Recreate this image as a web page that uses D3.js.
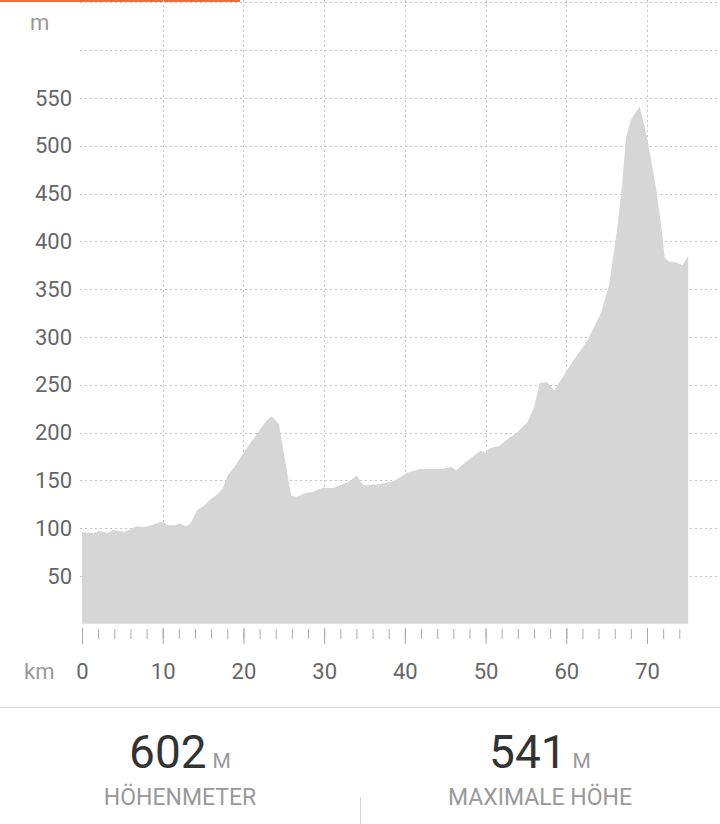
<!DOCTYPE html>
<html>
<head>
<meta charset="utf-8">
<script src="https://cdn.jsdelivr.net/npm/d3@7"></script>
<style>
  html, body { margin: 0; padding: 0; background: #fff; }
  svg { display: block; font-family: Roboto, "Noto Sans", sans-serif; }
</style>
</head>
<body>
<svg id="chart" width="720" height="824"></svg>
<script>
// Distance along route (km)
const distanceKm = [0, 1.4, 2.2, 3.1, 3.9, 5.3, 6.8, 7.6, 8.6, 9.9,
  10.7, 11.5, 12.1, 12.9, 13.4, 14.3, 15.2, 15.9, 16.7, 17.4,
  18.1, 18.8, 20, 21.2, 22.3, 22.9, 23.5, 24.4, 25.9, 26.6,
  27.8, 28.7, 29.7, 31.1, 32, 33.2, 34.0, 34.9, 36.9, 38.6,
  40.3, 41.9, 43.2, 44.6, 45.7, 46.4, 47.5, 48.6, 49.4, 50,
  50.6, 51.7, 52.7, 53.9, 55.2, 56.0, 56.7, 57.6, 58.5, 59.7,
  61, 62.6, 64.3, 65.3, 66.3, 66.9, 67.4, 68.0, 68.6, 69.1,
  70.0, 71.1, 71.7, 72.2, 72.7, 73.6, 74.4, 75.1];
// Elevation (m)
const elevationM = [96, 95, 97, 95, 98, 96, 102, 101, 103, 107,
  103, 103, 105, 102, 105, 119, 124, 130, 135, 141,
  156, 163, 179, 193, 206, 213, 217, 209, 134, 133,
  137, 138, 142, 142, 145, 149, 155, 145, 146, 149,
  158, 162, 162, 162, 164, 161, 169, 176, 181, 179,
  184, 186, 193, 200, 211, 226, 252, 253, 244, 260,
  277, 296, 325, 354, 413, 457, 509, 527, 535, 541,
  509, 457, 420, 383, 379, 378, 375, 385];
const yTickLabels = [50, 100, 150, 200, 250, 300, 350, 400, 450, 500, 550];
const yGridValues = [50, 100, 150, 200, 250, 300, 350, 400, 450, 500, 550, 600, 650];
const xMajorTicks = [0, 10, 20, 30, 40, 50, 60, 70];
const xMinorTicks = d3.range(0, 76, 2);
const xGridValues = [10, 20, 30, 40, 50, 60, 70];
const stats = [
  { value: "602", unit: "M", label: "HÖHENMETER" },
  { value: "541", unit: "M", label: "MAXIMALE HÖHE" }
];

const svg = d3.select("#chart");
const W = 720;

const x = d3.scaleLinear().domain([0, 70]).range([82, 647]);
const y = d3.scaleLinear().domain([0, 650]).range([623.8, 2.4]);

// tab indicator
svg.append("rect").attr("x", 0).attr("y", 0).attr("width", 240).attr("height", 2).attr("fill", "#e8703a");

// horizontal gridlines
svg.append("g").selectAll("line").data(yGridValues).join("line")
  .attr("x1", 80).attr("x2", W)
  .attr("y1", d => Math.round(y(d)) + 0.5).attr("y2", d => Math.round(y(d)) + 0.5)
  .attr("stroke", "#c4c4c4").attr("stroke-width", 1).attr("stroke-dasharray", "2,3");

// vertical gridlines
svg.append("g").selectAll("line").data(xGridValues).join("line")
  .attr("x1", d => Math.round(x(d)) + 0.5).attr("x2", d => Math.round(x(d)) + 0.5)
  .attr("y1", 0).attr("y2", y(0))
  .attr("stroke", "#c4c4c4").attr("stroke-width", 1).attr("stroke-dasharray", "2,3");

// area
const data = distanceKm.map((d, i) => ({ km: d, ele: elevationM[i] }));
const area = d3.area().x(d => x(d.km)).y0(y(0)).y1(d => y(d.ele));
svg.append("path").datum(data).attr("d", area).attr("fill", "#d6d6d6");

// y axis labels
const yAxis = d3.axisLeft(y).tickValues(yTickLabels).tickSize(0).tickPadding(8);
const gy = svg.append("g").attr("transform", "translate(80,0)").call(yAxis);
gy.select(".domain").remove();
gy.selectAll("text").attr("font-size", 22).attr("fill", "#666").attr("font-family", "Roboto, sans-serif");

// x axis minor ticks
const gxMinor = svg.append("g").attr("transform", "translate(0,629)")
  .call(d3.axisBottom(x).tickValues(xMinorTicks).tickSize(10).tickFormat(""));
gxMinor.select(".domain").remove();
gxMinor.selectAll("line").attr("stroke", "#aaa");

// x axis major ticks + labels
const gxMajor = svg.append("g").attr("transform", "translate(0,628)")
  .call(d3.axisBottom(x).tickValues(xMajorTicks).tickSize(16).tickPadding(19));
gxMajor.select(".domain").remove();
gxMajor.selectAll("line").attr("stroke", "#aaa");
gxMajor.selectAll("text").attr("font-size", 22).attr("fill", "#666").attr("font-family", "Roboto, sans-serif");

// unit labels
svg.append("text").attr("x", 30).attr("y", 30).attr("font-size", 22).attr("fill", "#999").text("m");
svg.append("text").attr("x", 24).attr("y", 679).attr("font-size", 22).attr("fill", "#999").text("km");

// separator
svg.append("line").attr("x1", 0).attr("x2", W).attr("y1", 707.5).attr("y2", 707.5).attr("stroke", "#d4d4d4");
svg.append("line").attr("x1", 360.5).attr("x2", 360.5).attr("y1", 797).attr("y2", 824).attr("stroke", "#d4d4d4");

// stats
const sg = svg.append("g").selectAll("g").data(stats).join("g")
  .attr("transform", (d, i) => `translate(${180 + i * 360},0)`);
const vt = sg.append("text").attr("y", 768).attr("text-anchor", "middle");
vt.append("tspan").attr("font-size", 46).attr("fill", "#333").text(d => d.value);
vt.append("tspan").attr("dx", 6).attr("font-size", 21).attr("fill", "#999").text(d => d.unit);
sg.append("text").attr("y", 805).attr("text-anchor", "middle").attr("font-size", 23).attr("fill", "#999")
  .text(d => d.label);
</script>
</body>
</html>
